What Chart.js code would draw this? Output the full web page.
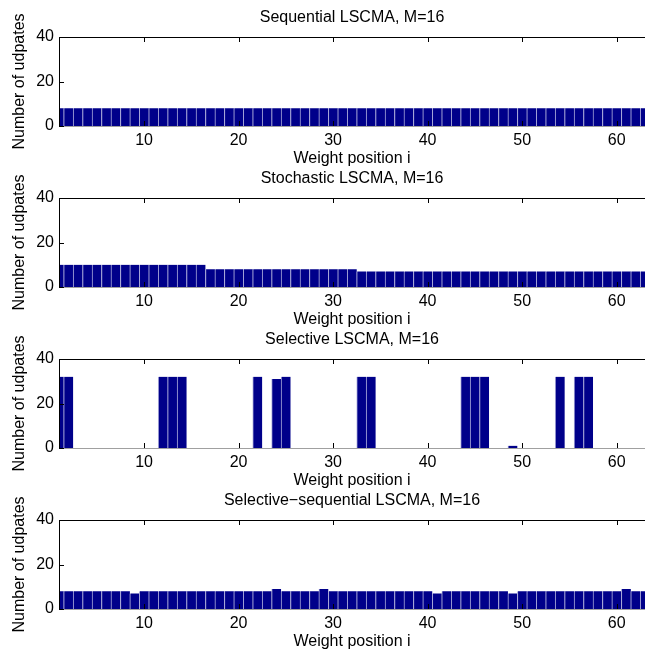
<!DOCTYPE html>
<html>
<head>
<meta charset="utf-8">
<script src="https://cdn.jsdelivr.net/npm/chart.js@4.4.1/dist/chart.umd.min.js"></script>
<style>
  body { margin: 0; background: #fff; }
  #wrap { position: relative; width: 645px; height: 653px; overflow: hidden; }
  .panel { position: absolute; left: 0; width: 645px; height: 170px; }
</style>
</head>
<body>
<div id="wrap">
  <div class="panel" style="top:0px"><canvas id="c1" width="645" height="170"></canvas></div>
  <div class="panel" style="top:161px"><canvas id="c2" width="645" height="170"></canvas></div>
  <div class="panel" style="top:322px"><canvas id="c3" width="645" height="170"></canvas></div>
  <div class="panel" style="top:483px"><canvas id="c4" width="645" height="170"></canvas></div>
</div>
<script>
// weight positions i
const positions = [1, 2, 3, 4, 5, 6, 7, 8, 9, 10, 11, 12, 13, 14, 15, 16, 17, 18, 19, 20,
  21, 22, 23, 24, 25, 26, 27, 28, 29, 30, 31, 32, 33, 34, 35, 36, 37, 38, 39, 40,
  41, 42, 43, 44, 45, 46, 47, 48, 49, 50, 51, 52, 53, 54, 55, 56, 57, 58, 59, 60,
  61, 62, 63];

const sequentialUpdates = [8, 8, 8, 8, 8, 8, 8, 8, 8, 8, 8, 8, 8, 8, 8, 8, 8, 8, 8, 8,
  8, 8, 8, 8, 8, 8, 8, 8, 8, 8, 8, 8, 8, 8, 8, 8, 8, 8, 8, 8,
  8, 8, 8, 8, 8, 8, 8, 8, 8, 8, 8, 8, 8, 8, 8, 8, 8, 8, 8, 8,
  8, 8, 8];

const stochasticUpdates = [10, 10, 10, 10, 10, 10, 10, 10, 10, 10, 10, 10, 10, 10, 10, 10,
  8, 8, 8, 8, 8, 8, 8, 8, 8, 8, 8, 8, 8, 8, 8, 8,
  7, 7, 7, 7, 7, 7, 7, 7, 7, 7, 7, 7, 7, 7, 7, 7,
  7, 7, 7, 7, 7, 7, 7, 7, 7, 7, 7, 7, 7, 7, 7];

const selectiveUpdates = [32, 32, 0, 0, 0, 0, 0, 0, 0, 0, 0, 32, 32, 32, 0, 0, 0, 0, 0, 0,
  0, 32, 0, 31, 32, 0, 0, 0, 0, 0, 0, 0, 32, 32, 0, 0, 0, 0, 0, 0,
  0, 0, 0, 32, 32, 32, 0, 0, 1, 0, 0, 0, 0, 32, 0, 32, 32, 0, 0, 0,
  0, 0, 0];

const selSeqUpdates = [8, 8, 8, 8, 8, 8, 8, 8, 7, 8, 8, 8, 8, 8, 8, 8, 8, 8, 8, 8,
  8, 8, 8, 9, 8, 8, 8, 8, 9, 8, 8, 8, 8, 8, 8, 8, 8, 8, 8, 8,
  7, 8, 8, 8, 8, 8, 8, 8, 7, 8, 8, 8, 8, 8, 8, 8, 8, 8, 8, 8,
  9, 8, 8];

const xTicks = [10, 20, 30, 40, 50, 60];
const yTicks = [0, 20, 40];

const panels = [
  { id: 'c1', title: 'Sequential LSCMA, M=16', values: sequentialUpdates },
  { id: 'c2', title: 'Stochastic LSCMA, M=16', values: stochasticUpdates },
  { id: 'c3', title: 'Selective LSCMA, M=16', values: selectiveUpdates },
  { id: 'c4', title: 'Selective\u2212sequential LSCMA, M=16', values: selSeqUpdates }
];

const FONT = '"Liberation Sans", Arial, Helvetica, sans-serif';
const FS = 16;

// matlab style box + inward tick marks
const axesBox = {
  id: 'axesBox',
  afterDatasetsDraw(chart) {
    const ctx = chart.ctx;
    const a = chart.chartArea;
    const xs = chart.scales.x, ys = chart.scales.y;
    ctx.save();
    ctx.lineWidth = 1;
    // bar baseline
    ctx.strokeStyle = '#a0a0a0';
    ctx.beginPath();
    ctx.moveTo(a.left, Math.round(a.bottom) + 0.5);
    ctx.lineTo(a.right, Math.round(a.bottom) + 0.5);
    ctx.stroke();
    ctx.strokeStyle = '#000';
    ctx.beginPath();
    ctx.moveTo(a.left, Math.round(a.top) + 0.5);
    ctx.lineTo(a.right, Math.round(a.top) + 0.5);
    ctx.moveTo(Math.round(a.left) + 0.5, a.top);
    ctx.lineTo(Math.round(a.left) + 0.5, a.bottom + 1);
    xTicks.forEach(v => {
      const px = Math.round(xs.getPixelForValue(v)) + 0.5;
      ctx.moveTo(px, a.top);
      ctx.lineTo(px, a.top + 5);
      ctx.moveTo(px, a.bottom);
      ctx.lineTo(px, a.bottom - 5);
    });
    yTicks.forEach(v => {
      const py = Math.round(ys.getPixelForValue(v)) + 0.5;
      ctx.moveTo(a.left, py);
      ctx.lineTo(a.left + 5, py);
    });
    ctx.stroke();
    ctx.restore();
  }
};

panels.forEach(p => {
  new Chart(document.getElementById(p.id), {
    type: 'bar',
    data: {
      datasets: [{
        xAxisID: 'x',
        yAxisID: 'y',
        data: positions.map((x, i) => ({ x: x, y: p.values[i] })),
        backgroundColor: '#00008a',
        borderColor: '#a4a4d8',
        borderWidth: { left: 1, right: 0, top: 0, bottom: 0 },
        borderSkipped: false,
        barPercentage: 1,
        categoryPercentage: 1
      }]
    },
    options: {
      responsive: false,
      animation: false,
      devicePixelRatio: 1,
      layout: { padding: 0 },
      plugins: {
        legend: { display: false },
        tooltip: { enabled: false },
        title: { display: false }
      },
      scales: {
        x: {
          type: 'linear',
          min: 1,
          max: 63,
          offset: false,
          grid: { display: false, drawTicks: false },
          border: { display: false },
          afterBuildTicks: s => { s.ticks = xTicks.map(v => ({ value: v })); },
          afterFit: s => { s.height = 44; },
          ticks: {
            color: '#000',
            padding: 5,
            maxRotation: 0,
            font: { family: FONT, size: FS }
          },
          title: {
            display: true,
            text: 'Weight position i',
            color: '#000',
            font: { family: FONT, size: FS },
            padding: { top: 0, bottom: 2 }
          }
        },
        // top axis only carries the subplot title, centred over the axes box
        t: {
          type: 'linear',
          axis: 'x',
          position: 'top',
          min: 1,
          max: 63,
          offset: false,
          grid: { display: false, drawTicks: false },
          border: { display: false },
          ticks: { display: false },
          afterFit: s => { s.height = 37; },
          title: {
            display: true,
            text: p.title,
            color: '#000',
            font: { family: FONT, size: FS },
            padding: { top: 8, bottom: 0 }
          }
        },
        y: {
          min: 0,
          max: 40,
          grid: { display: false, drawTicks: false },
          border: { display: false },
          afterBuildTicks: s => { s.ticks = yTicks.map(v => ({ value: v })); },
          afterFit: s => { s.width = 59; },
          ticks: {
            color: '#000',
            padding: 5,
            font: { family: FONT, size: FS }
          },
          title: {
            display: true,
            text: 'Number of udpates',
            color: '#000',
            font: { family: FONT, size: FS },
            padding: { top: 10, bottom: 0 }
          }
        }
      }
    },
    plugins: [axesBox]
  });
});
</script>
</body>
</html>
